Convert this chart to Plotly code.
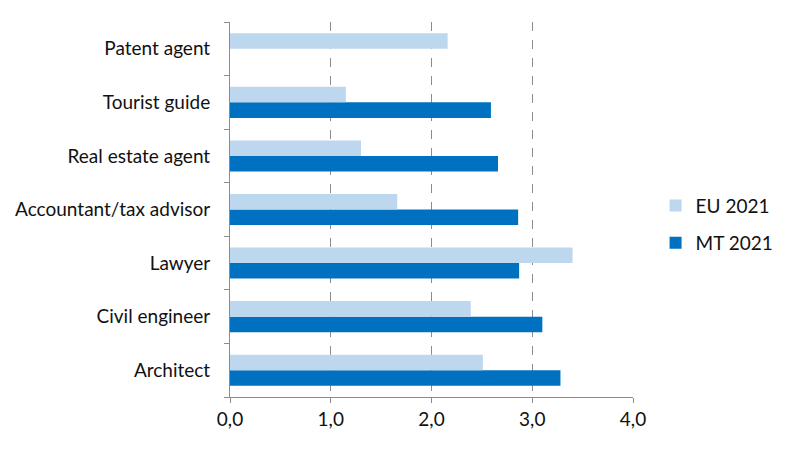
import plotly.graph_objects as go

categories = ["Architect", "Civil engineer", "Lawyer", "Accountant/tax advisor",
              "Real estate agent", "Tourist guide", "Patent agent"]
eu_2021 = [2.51, 2.39, 3.40, 1.66, 1.30, 1.15, 2.16]
mt_2021 = [3.28, 3.10, 2.87, 2.86, 2.66, 2.59, None]
x_ticks = [0, 1, 2, 3, 4]

FONT = "Lato"
FS = 19

fig = go.Figure()
fig.add_trace(go.Bar(y=categories, x=mt_2021, orientation="h", name="MT 2021",
                     marker=dict(color="#0070C0", line=dict(width=0)),
                     legend="legend2", showlegend=True))
fig.add_trace(go.Bar(y=categories, x=eu_2021, orientation="h", name="EU 2021",
                     marker=dict(color="#BDD7EE", line=dict(width=0)),
                     legend="legend", showlegend=True))

fig.update_layout(
    width=784, height=441,
    margin=dict(l=222, r=159, t=14, b=52, autoexpand=False),
    barmode="group", bargap=0.42, bargroupgap=0,
    plot_bgcolor="white", paper_bgcolor="white",
    separators=",.",
    showlegend=True,
    font=dict(family=FONT, size=FS, color="#111111"),
    legend=dict(x=1.056, y=0.51, xanchor="left", yanchor="middle",
                font=dict(size=FS), bgcolor="rgba(0,0,0,0)", itemwidth=30),
    legend2=dict(x=1.056, y=0.411, xanchor="left", yanchor="middle",
                 font=dict(size=FS), bgcolor="rgba(0,0,0,0)", itemwidth=30),
    xaxis=dict(range=[0, 4], tickvals=x_ticks, tickformat=".1f",
               showgrid=True, gridcolor="#8c8c8c", griddash="dash", gridwidth=1,
               showline=True, linecolor="#8c8c8c", linewidth=1,
               ticks="outside", ticklen=5, tickcolor="#8c8c8c",
               zeroline=False, tickfont=dict(size=FS), automargin=False),
    yaxis=dict(categoryorder="array", categoryarray=categories,
               showline=True, linecolor="#8c8c8c", linewidth=1,
               ticks="outside", ticklen=5, tickcolor="#8c8c8c",
               tickson="boundaries", showgrid=False, zeroline=False,
               ticklabelstandoff=15, tickfont=dict(size=FS), automargin=False),
)

fig.write_html("out.html")
